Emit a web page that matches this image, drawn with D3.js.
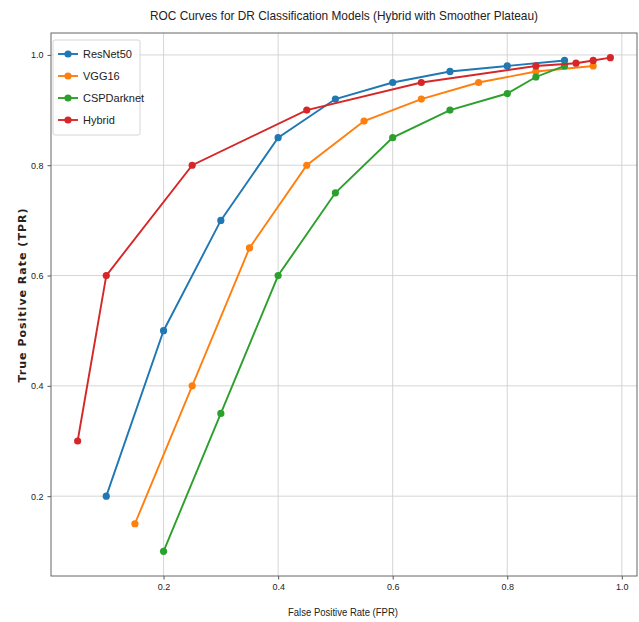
<!DOCTYPE html>
<html>
<head>
<meta charset="utf-8">
<script src="https://cdn.jsdelivr.net/npm/d3@7"></script>
<style>
  body { margin: 0; background: #fff; }
  text { font-family: "Liberation Sans Narrow", "Liberation Sans", "DejaVu Sans", sans-serif; fill: #222; }
</style>
</head>
<body>
<svg id="roc"></svg>
<script>
// values
const modelNames = ["ResNet50", "VGG16", "CSPDarknet", "Hybrid"];
const modelColors = ["#1f77b4", "#ff7f0e", "#2ca02c", "#d62728"];

const resnetFpr = [0.1, 0.2, 0.3, 0.4, 0.5, 0.6, 0.7, 0.8, 0.9];
const resnetTpr = [0.2, 0.5, 0.7, 0.85, 0.92, 0.95, 0.97, 0.98, 0.99];

const vggFpr = [0.15, 0.25, 0.35, 0.45, 0.55, 0.65, 0.75, 0.85, 0.95];
const vggTpr = [0.15, 0.4, 0.65, 0.8, 0.88, 0.92, 0.95, 0.97, 0.98];

const cspFpr = [0.2, 0.3, 0.4, 0.5, 0.6, 0.7, 0.8, 0.85, 0.9];
const cspTpr = [0.1, 0.35, 0.6, 0.75, 0.85, 0.9, 0.93, 0.96, 0.98];

const hybridFpr = [0.05, 0.1, 0.25, 0.45, 0.65, 0.85, 0.92, 0.95, 0.98];
const hybridTpr = [0.3, 0.6, 0.8, 0.9, 0.95, 0.98, 0.985, 0.99, 0.995];

const xTicks = [0.2, 0.4, 0.6, 0.8, 1.0];
const yTicks = [0.2, 0.4, 0.6, 0.8, 1.0];

const titleText = "ROC Curves for DR Classification Models (Hybrid with Smoother Plateau)";
const xLabel = "False Positive Rate (FPR)";
const yLabel = "True Positive Rate (TPR)";

const fprSets = [resnetFpr, vggFpr, cspFpr, hybridFpr];
const tprSets = [resnetTpr, vggTpr, cspTpr, hybridTpr];
const series = modelNames.map((name, i) => ({
    name: name,
    color: modelColors[i],
    points: fprSets[i].map((x, j) => ({ x: x, y: tprSets[i][j] }))
}));

const W = 639, H = 622;
const margin = { top: 33, right: 2, bottom: 46, left: 51 };

const svg = d3.select("#roc").attr("width", W).attr("height", H);

// matplotlib style 5% padding around the data
function padded(vals) {
    const [lo, hi] = d3.extent(vals);
    const pad = (hi - lo) * 0.05;
    return [lo - pad, hi + pad];
}
const allX = fprSets.flat();
const allY = tprSets.flat();

const x = d3.scaleLinear().domain(padded(allX)).range([margin.left, W - margin.right]);
const y = d3.scaleLinear().domain(padded(allY)).range([H - margin.bottom, margin.top]);

// grid
const grid = svg.append("g").attr("stroke", "#d0d0d0").attr("stroke-width", 0.9);
grid.selectAll(".gx").data(xTicks).join("line")
    .attr("x1", d => x(d)).attr("x2", d => x(d))
    .attr("y1", margin.top).attr("y2", H - margin.bottom);
grid.selectAll(".gy").data(yTicks).join("line")
    .attr("y1", d => y(d)).attr("y2", d => y(d))
    .attr("x1", margin.left).attr("x2", W - margin.right);

// axes
const xAxis = svg.append("g")
    .attr("transform", `translate(0,${H - margin.bottom})`)
    .call(d3.axisBottom(x).tickValues(xTicks).tickFormat(d3.format(".1f")).tickSize(3.5).tickPadding(4));
const yAxis = svg.append("g")
    .attr("transform", `translate(${margin.left},0)`)
    .call(d3.axisLeft(y).tickValues(yTicks).tickFormat(d3.format(".1f")).tickSize(3.5).tickPadding(4));
[xAxis, yAxis].forEach(a => {
    a.select(".domain").remove();
    a.selectAll(".tick line").attr("stroke", "#555");
    a.selectAll(".tick text").attr("font-size", 9).attr("fill", "#333")
        .style("font-family", "'Liberation Sans Narrow', 'Liberation Sans', sans-serif");
});

// frame
svg.append("rect")
    .attr("x", margin.left).attr("y", margin.top)
    .attr("width", W - margin.right - margin.left)
    .attr("height", H - margin.bottom - margin.top)
    .attr("fill", "none").attr("stroke", "#666").attr("stroke-width", 1);

// curves
const line = d3.line().x(d => x(d.x)).y(d => y(d.y));
const groups = svg.selectAll(".series").data(series).join("g").attr("class", "series");
groups.append("path")
    .attr("d", d => line(d.points))
    .attr("fill", "none")
    .attr("stroke", d => d.color)
    .attr("stroke-width", 1.9);
groups.selectAll("circle").data(d => d.points.map(p => ({ ...p, color: d.color }))).join("circle")
    .attr("cx", d => x(d.x)).attr("cy", d => y(d.y))
    .attr("r", 3.6)
    .attr("fill", d => d.color);

// title and labels
svg.append("text")
    .attr("x", (margin.left + W - margin.right) / 2).attr("y", 20)
    .attr("text-anchor", "middle").attr("font-size", 13)
    .attr("textLength", 388).attr("lengthAdjust", "spacingAndGlyphs")
    .text(titleText);

svg.append("text")
    .attr("x", 343).attr("y", 616)
    .attr("text-anchor", "middle").attr("font-size", 10)
    .attr("textLength", 110).attr("lengthAdjust", "spacingAndGlyphs")
    .text(xLabel);

svg.append("text")
    .attr("transform", `translate(26,${(margin.top + H - margin.bottom) / 2 - 9}) rotate(-90)`)
    .attr("text-anchor", "middle").attr("font-size", 11).attr("font-weight", "bold")
    .attr("fill", "#333")
    .attr("textLength", 174).attr("lengthAdjust", "spacing")
    .style("font-family", "'DejaVu Sans', sans-serif")
    .text(yLabel);

// legend
const legend = svg.append("g").attr("transform", `translate(${margin.left + 2},${margin.top + 7})`);
legend.append("rect")
    .attr("width", 87).attr("height", 95).attr("rx", 2)
    .attr("fill", "#fff").attr("fill-opacity", 0.85)
    .attr("stroke", "#d6d6d6");
const items = legend.selectAll(".item").data(series).join("g")
    .attr("transform", (d, i) => `translate(0,${14 + i * 22})`);
items.append("line")
    .attr("x1", 5).attr("x2", 25)
    .attr("stroke", d => d.color).attr("stroke-width", 1.9);
items.append("circle").attr("cx", 15).attr("r", 3.6).attr("fill", d => d.color);
items.append("text")
    .attr("x", 30).attr("dy", "0.35em").attr("font-size", 11)
    .text(d => d.name);
</script>
</body>
</html>
